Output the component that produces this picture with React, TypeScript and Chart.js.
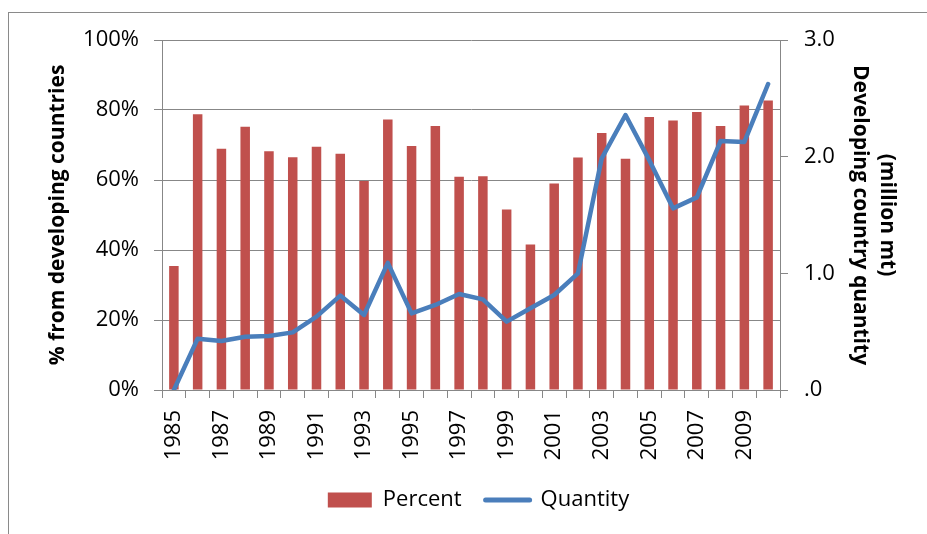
import React, { useEffect, useRef } from "react";
import { Chart, registerables } from "chart.js";

Chart.register(...registerables);

const years = [
  "1985", "1986", "1987", "1988", "1989", "1990", "1991", "1992", "1993",
  "1994", "1995", "1996", "1997", "1998", "1999", "2000", "2001", "2002",
  "2003", "2004", "2005", "2006", "2007", "2008", "2009", "2010",
];

const percentValues = [
  35.4, 78.8, 68.9, 75.2, 68.2, 66.5, 69.5, 67.5, 59.7, 77.3, 69.7, 75.4, 60.9,
  61.1, 51.6, 41.6, 59.0, 66.4, 73.4, 66.1, 78.0, 77.0, 79.4, 75.4, 81.3, 82.7,
];

const quantityValues = [
  0.0, 0.44, 0.42, 0.457, 0.463, 0.494, 0.629, 0.809, 0.643, 1.09, 0.657, 0.729,
  0.823, 0.777, 0.586, 0.70, 0.814, 1.0, 1.986, 2.357, 1.97, 1.557, 1.651,
  2.134, 2.126, 2.623,
];

const leftTicks = [0, 20, 40, 60, 80, 100];
const rightTicks = [0, 1, 2, 3];

const RED = "#C0504D";
const BLUE = "#4A7EBB";
const GRID = "#878787";
const FONT = "'Open Sans', 'Noto Sans', sans-serif";

export default function App() {
  const ref = useRef<HTMLCanvasElement | null>(null);

  useEffect(() => {
    if (!ref.current) return;
    const chart = new Chart(ref.current, {
      type: "bar",
      data: {
        labels: years,
        datasets: [
          {
            type: "bar",
            label: "Percent",
            data: percentValues,
            backgroundColor: RED,
            borderWidth: 0,
            barPercentage: 0.4,
            categoryPercentage: 1,
            yAxisID: "y",
            order: 1,
          },
          {
            type: "line",
            label: "Quantity",
            data: quantityValues,
            borderColor: BLUE,
            backgroundColor: BLUE,
            borderWidth: 4.5,
            pointRadius: 0,
            tension: 0,
            borderJoinStyle: "round",
            borderCapStyle: "round",
            yAxisID: "y1",
            order: 0,
          } as any,
        ],
      },
      options: {
        responsive: false,
        animation: false,
        devicePixelRatio: 1,
        layout: { padding: { left: 30, right: 0, top: 40, bottom: 13 } },
        plugins: {
          tooltip: { enabled: false },
          legend: {
            position: "bottom",
            labels: {
              usePointStyle: true,
              pointStyleWidth: 44,
              boxHeight: 15,
              padding: 24,
              color: "#000",
              font: { family: FONT, size: 22 },
              generateLabels: () => [
                {
                  text: "Percent",
                  fillStyle: RED,
                  strokeStyle: RED,
                  lineWidth: 0,
                  pointStyle: "rect",
                  datasetIndex: 0,
                  hidden: false,
                  fontColor: "#000",
                } as any,
                {
                  text: "Quantity",
                  fillStyle: BLUE,
                  strokeStyle: BLUE,
                  lineWidth: 5,
                  lineCap: "round",
                  pointStyle: "line",
                  datasetIndex: 1,
                  hidden: false,
                  fontColor: "#000",
                } as any,
              ],
            },
          },
        },
        scales: {
          x: {
            grid: {
              offset: true,
              drawOnChartArea: false,
              drawTicks: true,
              tickLength: 8,
              color: GRID,
            },
            border: { display: true, color: GRID, width: 1 },
            ticks: {
              autoSkip: false,
              maxRotation: 90,
              minRotation: 90,
              padding: 12,
              color: "#000",
              font: { family: FONT, size: 22 },
              callback: (_v: any, i: number) => (i % 2 === 0 ? years[i] : ""),
            },
            afterFit: (s: any) => {
              s.height = 75;
            },
          },
          y: {
            position: "left",
            min: 0,
            max: 100,
            afterBuildTicks: (s: any) => {
              s.ticks = leftTicks.map((v) => ({ value: v }));
            },
            grid: { color: GRID, drawTicks: true, tickLength: 8, lineWidth: 1 },
            border: { display: true, color: GRID, width: 1 },
            ticks: {
              padding: 15,
              color: "#000",
              font: { family: FONT, size: 22 },
              callback: (v: any) => v + "%",
            },
            title: {
              display: true,
              text: "% from developing countries",
              color: "#000",
              font: { family: FONT, size: 21, weight: "bold", lineHeight: 1.3 },
              padding: { top: 14, bottom: 0 },
            },
            afterFit: (s: any) => {
              s.width = 132;
            },
          },
          y1: {
            position: "right",
            min: 0,
            max: 3,
            afterBuildTicks: (s: any) => {
              s.ticks = rightTicks.map((v) => ({ value: v }));
            },
            grid: {
              drawOnChartArea: false,
              drawTicks: true,
              tickLength: 8,
              color: GRID,
            },
            border: { display: true, color: GRID, width: 1 },
            ticks: {
              padding: 16,
              color: "#000",
              font: { family: FONT, size: 22 },
              callback: (v: any) => (v === 0 ? ".0" : Number(v).toFixed(1)),
            },
            title: {
              display: true,
              text: ["(million mt)", "Developing country quantity"],
              color: "#000",
              font: { family: FONT, size: 21, weight: "bold", lineHeight: 1.3 },
              padding: { top: 26, bottom: 0 },
            },
            afterFit: (s: any) => {
              s.width = 147;
            },
          },
        },
      } as any,
    });
    return () => chart.destroy();
  }, []);

  return (
    <div
      style={{
        position: "fixed",
        left: 0,
        top: 0,
        width: 927,
        height: 534,
        background: "#fff",
        overflow: "hidden",
      }}
    >
      <div
        style={{
          position: "absolute",
          left: 8,
          top: 12,
          width: 1000,
          height: 600,
          borderTop: "1px solid #8a8a8a",
          borderLeft: "1px solid #8a8a8a",
        }}
      />
      <canvas
        ref={ref}
        width={927}
        height={534}
        style={{ position: "absolute", left: 0, top: 0, width: 927, height: 534 }}
      />
    </div>
  );
}
